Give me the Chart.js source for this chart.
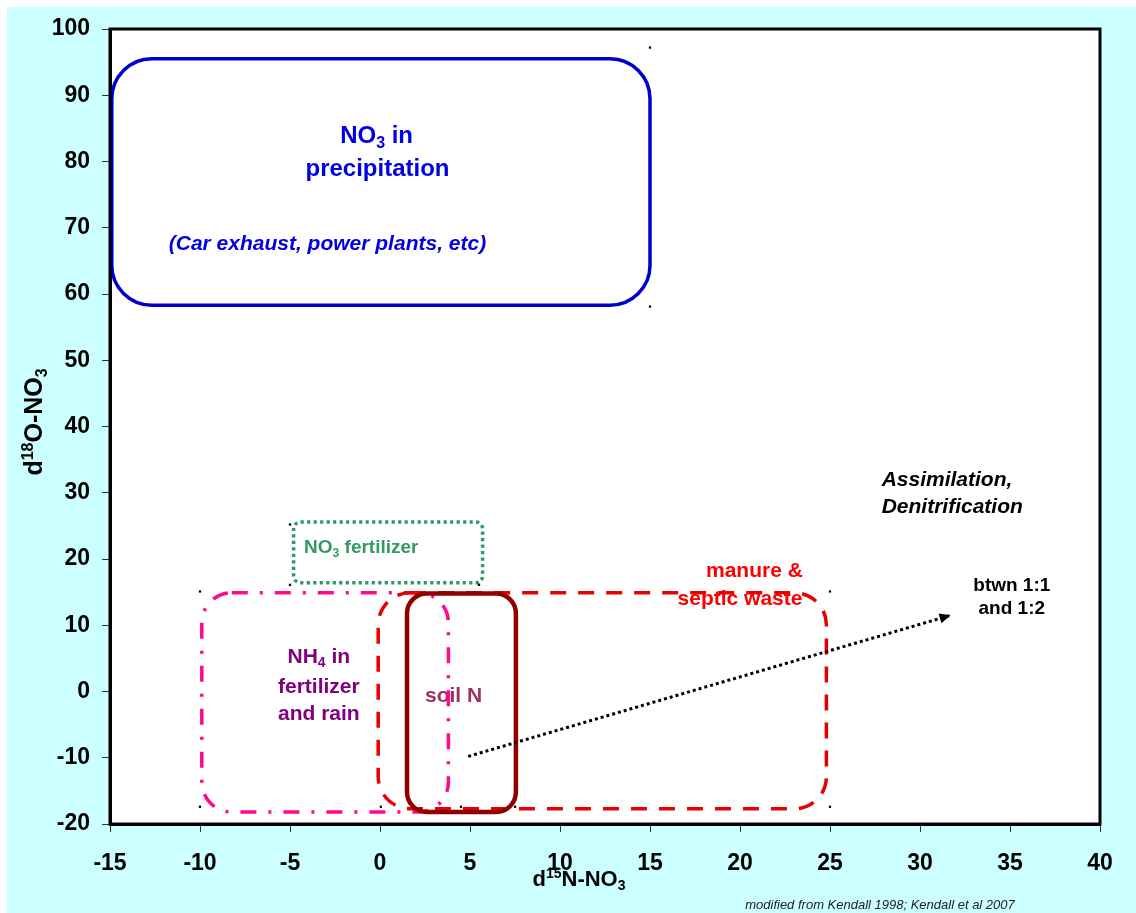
<!DOCTYPE html>
<html>
<head>
<meta charset="utf-8">
<script src="https://cdn.jsdelivr.net/npm/chart.js@4.4.1/dist/chart.umd.min.js"></script>
<style>
  html, body { margin: 0; padding: 0; background: #ffffff; }
  canvas { display: block; }
</style>
</head>
<body>
<canvas id="chart" width="1136" height="913"></canvas>
<script>
// Tick values (per mil)
const xTickValues = [-15, -10, -5, 0, 5, 10, 15, 20, 25, 30, 35, 40];
const yTickValues = [-20, -10, 0, 10, 20, 30, 40, 50, 60, 70, 80, 90, 100];

// Source fields: [d15N min, d15N max, d18O min, d18O max]
const precipitationField = [-14.9, 15.0, 58.3, 95.5];
const no3FertilizerField = [-4.8, 5.7, 16.4, 25.6];
const nh4Field = [-9.9, 3.8, -18.2, 14.9];
const manureSepticField = [-0.1, 24.8, -17.7, 14.9];
const soilNField = [1.5, 7.55, -18.2, 14.8];

// Assimilation / denitrification trend (start -> end)
const trendX = [4.9, 31.7];
const trendY = [-9.8, 11.5];

// Small anchor markers at field corners
const markerX = [15, 15, -5, -5, 5.5, -10, -10, 0.05, 4.5, 7.5, 25, 25];
const markerY = [97.2, 58.1, 25.2, 16.1, 16.1, 15.1, -17.4, -17.4, -17.4, -17.4, 15.1, -17.4];

const FONT = '"Liberation Sans", Arial, Helvetica, sans-serif';

function fontStr(size, bold, italic) {
  return (italic ? 'italic ' : '') + (bold ? 'bold ' : '') + size + 'px ' + FONT;
}

// Rich text: parts are [text, kind] with kind '', 'sub' or 'sup'
function partFont(kind, size, bold, italic) {
  return fontStr(kind ? Math.round(size * 0.65) : size, bold, italic);
}
function richWidth(ctx, parts, size, bold, italic) {
  let w = 0;
  for (const [t, k] of parts) { ctx.font = partFont(k, size, bold, italic); w += ctx.measureText(t).width; }
  return w;
}
function drawRich(ctx, parts, x, y, o) {
  const w = richWidth(ctx, parts, o.size, o.bold, o.italic);
  let cx = o.align === 'left' ? x : x - w / 2;
  ctx.fillStyle = o.color;
  ctx.textAlign = 'left';
  ctx.textBaseline = 'alphabetic';
  for (const [t, k] of parts) {
    ctx.font = partFont(k, o.size, o.bold, o.italic);
    const dy = k === 'sub' ? o.size * 0.2 : (k === 'sup' ? -o.size * 0.38 : 0);
    ctx.fillText(t, cx, y + dy);
    cx += ctx.measureText(t).width;
  }
}

function roundRectPath(ctx, l, t, r, b, rad) {
  rad = Math.min(rad, (r - l) / 2, (b - t) / 2);
  ctx.beginPath();
  ctx.moveTo(l + rad, t);
  ctx.lineTo(r - rad, t);
  ctx.arcTo(r, t, r, t + rad, rad);
  ctx.lineTo(r, b - rad);
  ctx.arcTo(r, b, r - rad, b, rad);
  ctx.lineTo(l + rad, b);
  ctx.arcTo(l, b, l, b - rad, rad);
  ctx.lineTo(l, t + rad);
  ctx.arcTo(l, t, l + rad, t, rad);
  ctx.closePath();
}

function drawField(chart, field, style) {
  const ctx = chart.ctx, xs = chart.scales.x, ys = chart.scales.y;
  const l = xs.getPixelForValue(field[0]);
  const r = xs.getPixelForValue(field[1]);
  const t = ys.getPixelForValue(field[3]);
  const b = ys.getPixelForValue(field[2]);
  ctx.save();
  ctx.strokeStyle = style.color;
  ctx.lineWidth = style.width;
  ctx.lineCap = 'butt';
  ctx.setLineDash(style.dash || []);
  roundRectPath(ctx, l, t, r, b, style.radius);
  ctx.stroke();
  ctx.restore();
}

const annotationPlugin = {
  id: 'isotopeFields',
  beforeDraw(chart) {
    const ctx = chart.ctx, a = chart.chartArea;
    ctx.save();
    ctx.fillStyle = '#ffffff';
    ctx.fillRect(0, 0, chart.width, chart.height);
    ctx.fillStyle = '#ccffff';
    ctx.fillRect(7, 7, chart.width - 7, chart.height - 7);
    ctx.fillStyle = '#ffffff';
    ctx.fillRect(a.left, a.top, a.right - a.left, a.bottom - a.top);
    ctx.restore();
  },
  beforeDatasetsDraw(chart) {
    const ctx = chart.ctx, xs = chart.scales.x, ys = chart.scales.y;
    const px = v => xs.getPixelForValue(v), py = v => ys.getPixelForValue(v);
    ctx.save();

    // Field labels
    const blue = { size: 24, bold: true, color: '#0000e6' };
    drawRich(ctx, [['NO', ''], ['3', 'sub'], [' in', '']], px(-0.19), py(82.8), blue);
    drawRich(ctx, [['precipitation', '']], px(-0.14), py(77.8), blue);
    drawRich(ctx, [['(Car exhaust, power plants, etc)', '']], px(-2.92), py(66.6),
      { size: 21, bold: true, italic: true, color: '#0000e6' });

    drawRich(ctx, [['NO', ''], ['3', 'sub'], [' fertilizer', '']], px(-1.04), py(20.9),
      { size: 19, bold: true, color: '#339966' });

    const purple = { size: 21, bold: true, color: '#800080' };
    drawRich(ctx, [['NH', ''], ['4', 'sub'], [' in', '']], px(-3.4), py(4.35), purple);
    drawRich(ctx, [['fertilizer', '']], px(-3.4), py(-0.18), purple);
    drawRich(ctx, [['and rain', '']], px(-3.4), py(-4.3), purple);

    drawRich(ctx, [['soil N', '']], px(4.09), py(-1.54), { size: 21, bold: true, color: '#993366' });

    const red = { size: 21, bold: true, color: '#ff0000' };
    drawRich(ctx, [['manure &', '']], px(20.8), py(17.24), red);
    drawRich(ctx, [['septic waste', '']], px(20.0), py(13.06), red);

    const proc = { size: 21, bold: true, italic: true, color: '#000000', align: 'left' };
    drawRich(ctx, [['Assimilation,', '']], px(27.87), py(31.0), proc);
    drawRich(ctx, [['Denitrification', '']], px(27.87), py(27.0), proc);

    const ratio = { size: 19, bold: true, color: '#000000' };
    drawRich(ctx, [['btwn 1:1', '']], px(35.1), py(15.2), ratio);
    drawRich(ctx, [['and 1:2', '']], px(35.1), py(11.7), ratio);
    ctx.restore();

    // Source fields
    drawField(chart, nh4Field, { color: '#ff0a8c', width: 3.5, dash: [16, 12, 3, 12], radius: 30 });
    drawField(chart, manureSepticField, { color: '#e80000', width: 3.5, dash: [16, 12], radius: 32 });
    drawField(chart, soilNField, { color: '#900000', width: 4.5, radius: 20 });
    drawField(chart, precipitationField, { color: '#0000cc', width: 3.5, radius: 40 });
    drawField(chart, no3FertilizerField, { color: '#2e9966', width: 3.5, dash: [3.2, 3.3], radius: 7 });
  },
  afterDatasetsDraw(chart) {
    const ctx = chart.ctx, xs = chart.scales.x, ys = chart.scales.y;
    // Arrow head at the end of the trend line
    const x0 = xs.getPixelForValue(trendX[0]), y0 = ys.getPixelForValue(trendY[0]);
    const x1 = xs.getPixelForValue(trendX[1]), y1 = ys.getPixelForValue(trendY[1]);
    const ang = Math.atan2(y1 - y0, x1 - x0);
    const len = 11, half = 5;
    ctx.save();
    ctx.translate(x1, y1);
    ctx.rotate(ang);
    ctx.beginPath();
    ctx.moveTo(0, 0);
    ctx.lineTo(-len, -half);
    ctx.lineTo(-len, half);
    ctx.closePath();
    ctx.fillStyle = '#000000';
    ctx.fill();
    ctx.restore();
  },
  afterDraw(chart) {
    const ctx = chart.ctx, a = chart.chartArea;
    ctx.save();
    // Plot frame
    ctx.strokeStyle = '#000000';
    ctx.lineWidth = 3;
    ctx.strokeRect(a.left, a.top, a.right - a.left, a.bottom - a.top);

    // Axis titles
    drawRich(ctx, [['d', ''], ['15', 'sup'], ['N-NO', ''], ['3', 'sub']], 579, 886,
      { size: 22, bold: true, color: '#000000' });
    ctx.translate(42, 422);
    ctx.rotate(-Math.PI / 2);
    drawRich(ctx, [['d', ''], ['18', 'sup'], ['O-NO', ''], ['3', 'sub']], 0, 0,
      { size: 25, bold: true, color: '#000000' });
    ctx.setTransform(1, 0, 0, 1, 0, 0);

    // Source note
    drawRich(ctx, [['modified from Kendall 1998; Kendall et al 2007', '']], 880, 909,
      { size: 13, italic: true, color: '#222222' });
    ctx.restore();
  }
};

const tickFont = { family: FONT, size: 23, weight: 'bold' };

new Chart(document.getElementById('chart'), {
  type: 'scatter',
  data: {
    datasets: [
      {
        label: 'trend',
        type: 'line',
        data: trendX.map((x, i) => ({ x, y: trendY[i] })),
        borderColor: '#000000',
        borderWidth: 3,
        borderDash: [3, 3],
        pointRadius: 0,
        fill: false,
        tension: 0
      },
      {
        label: 'anchors',
        data: markerX.map((x, i) => ({ x, y: markerY[i] })),
        pointStyle: 'rect',
        pointRadius: 1.6,
        backgroundColor: '#000000',
        borderColor: '#000000',
        borderWidth: 0
      }
    ]
  },
  options: {
    responsive: false,
    animation: false,
    devicePixelRatio: 1,
    layout: { padding: { top: 29, right: 36, left: 0, bottom: 0 } },
    plugins: { legend: { display: false }, tooltip: { enabled: false }, title: { display: false } },
    scales: {
      x: {
        type: 'linear',
        min: -15,
        max: 40,
        afterBuildTicks: s => { s.ticks = xTickValues.map(v => ({ value: v })); },
        afterFit: s => { s.height = 89; },
        ticks: { font: tickFont, color: '#000000', padding: 18, maxRotation: 0, autoSkip: false },
        grid: { drawOnChartArea: false, drawTicks: true, tickLength: 8, color: '#333333', lineWidth: 1 },
        border: { display: true, color: '#000000', width: 3 }
      },
      y: {
        type: 'linear',
        min: -20,
        max: 100,
        afterBuildTicks: s => { s.ticks = yTickValues.map(v => ({ value: v })); },
        afterFit: s => { s.width = 110; },
        ticks: { font: tickFont, color: '#000000', padding: 12, autoSkip: false },
        grid: { drawOnChartArea: false, drawTicks: true, tickLength: 8, color: '#333333', lineWidth: 1 },
        border: { display: true, color: '#000000', width: 3 }
      }
    }
  },
  plugins: [annotationPlugin]
});
</script>
</body>
</html>
